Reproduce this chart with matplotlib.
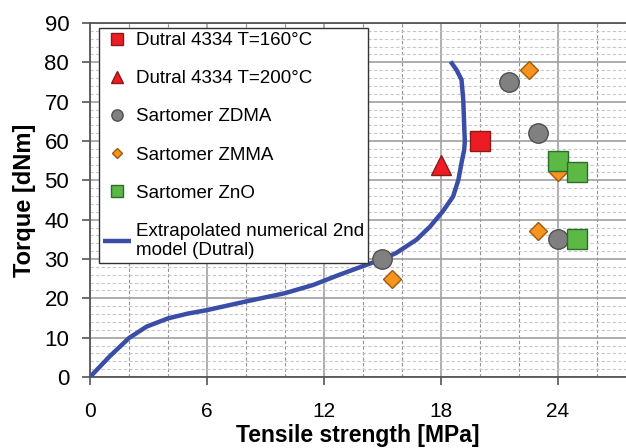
import matplotlib.pyplot as plt
from matplotlib.ticker import MultipleLocator

plt.rcParams['font.family'] = ['Liberation Sans', 'DejaVu Sans']

# Measured points (tensile strength [MPa], torque [dNm])
dutral160_x = [20.0]
dutral160_y = [60.0]
dutral200_x = [18.0]
dutral200_y = [54.0]
zdma_x = [21.5, 23.0, 24.0, 15.0]
zdma_y = [75.0, 62.0, 35.0, 30.0]
zmma_x = [22.5, 24.0, 23.0, 15.5]
zmma_y = [78.0, 52.0, 37.0, 25.0]
zno_x = [24.0, 25.0, 25.0]
zno_y = [55.0, 52.0, 35.0]

# Extrapolated numerical model curve
model_x = [0, 1, 2, 2.9, 4, 5, 6, 8, 10, 11.45, 12.8, 13.9, 15, 15.7, 16.75,
           17.44, 18.1, 18.63, 18.9, 19.06, 19.2, 19.23, 19.2, 19.15, 19.06,
           18.8, 18.5]
model_y = [0, 5.2, 9.9, 12.8, 14.9, 16.1, 17, 19.2, 21.3, 23.4, 26, 28, 30,
           31.5, 34.9, 38.2, 42.1, 45.9, 50.1, 54.4, 57.8, 60, 63.7, 70.5,
           75.6, 78.1, 80.2]

fig = plt.figure(figsize=(6.26, 4.48), dpi=100)
ax = fig.add_axes([0.1438, 0.1585, 0.8562, 0.7902])

ax.plot(model_x, model_y, color='#3b4ea6', lw=3.2, zorder=3,
        solid_joinstyle='round', solid_capstyle='butt',
        label='Extrapolated numerical 2nd\nmodel (Dutral)')
ax.plot(dutral160_x, dutral160_y, 's', ms=14, color='#ed1c24', mec='#8b1a1a', mew=1,
        ls='none', zorder=4, label='Dutral 4334 T=160°C')
ax.plot(dutral200_x, dutral200_y, '^', ms=15, color='#ed1c24', mec='#8b1a1a', mew=1,
        ls='none', zorder=4, label='Dutral 4334 T=200°C')
ax.plot(zdma_x, zdma_y, 'o', ms=14, color='#808080', mec='#505050', mew=1,
        ls='none', zorder=4, label='Sartomer ZDMA')
ax.plot(zmma_x, zmma_y, 'D', ms=9.5, color='#f7941d', mec='#a05a10', mew=1,
        ls='none', zorder=4, label='Sartomer ZMMA')
ax.plot(zno_x, zno_y, 's', ms=14, color='#5cb946', mec='#2f6b2a', mew=1,
        ls='none', zorder=5, label='Sartomer ZnO')

ax.set_xlim(0, 27.5)
ax.set_ylim(0, 90)
ax.xaxis.set_major_locator(MultipleLocator(6))
ax.xaxis.set_minor_locator(MultipleLocator(2))
ax.yaxis.set_major_locator(MultipleLocator(10))
ax.yaxis.set_minor_locator(MultipleLocator(2))

ax.grid(True, which='major', axis='y', color='#a0a0a0', lw=1.2, ls='-')
ax.grid(True, which='minor', axis='y', color='#c8c8c8', lw=0.8, ls=(0, (3, 2)))
ax.grid(True, which='major', axis='x', color='#a0a0a0', lw=1.2, ls='-')
ax.grid(True, which='minor', axis='x', color='#909090', lw=0.8, ls=(0, (3, 2)))
ax.set_axisbelow(True)

ax.spines['right'].set_visible(False)
for side in ['left', 'bottom', 'top']:
    ax.spines[side].set_color('#555555')
    ax.spines[side].set_linewidth(1.3)

ax.tick_params(axis='x', which='major', direction='out', length=6, width=1.2,
               color='#555555', labelsize=15, pad=12)
ax.tick_params(axis='y', which='major', direction='out', length=6, width=1.2,
               color='#555555', labelsize=16, pad=9)
ax.tick_params(which='minor', length=0)

ax.set_xlabel('Tensile strength [MPa]', fontsize=16.5, fontweight='bold', labelpad=2)
ax.set_ylabel('Torque [dNm]', fontsize=17, fontweight='bold', labelpad=6)

handles, labels = ax.get_legend_handles_labels()
order = [1, 2, 3, 4, 5, 0]
leg = ax.legend([handles[i] for i in order], [labels[i] for i in order],
                loc='upper left', bbox_to_anchor=(0.017, 0.985), fontsize=13.5,
                markerscale=0.58, frameon=True, fancybox=False, framealpha=1,
                edgecolor='#333333', labelspacing=1.12, handlelength=1.5,
                handletextpad=0.25, borderpad=0.2, borderaxespad=0)
leg.get_frame().set_linewidth(1.0)

fig.savefig('out.png', dpi=100)
